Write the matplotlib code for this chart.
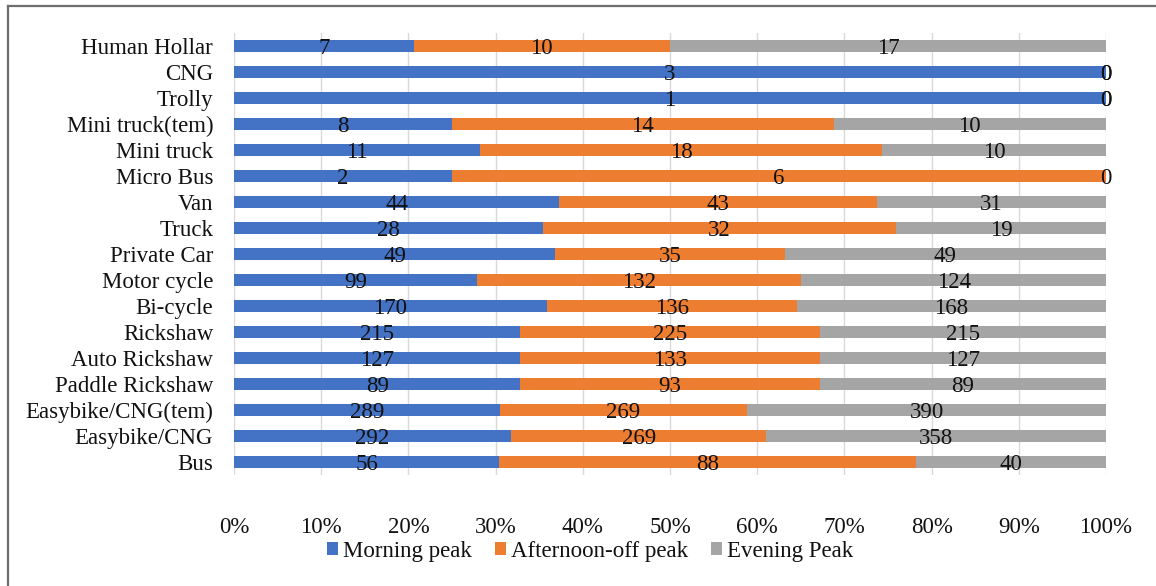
import matplotlib.pyplot as plt
from matplotlib.lines import Line2D
from matplotlib.patches import Patch
import numpy as np

categories = ["Bus", "Easybike/CNG", "Easybike/CNG(tem)", "Paddle Rickshaw",
              "Auto Rickshaw", "Rickshaw", "Bi-cycle", "Motor cycle",
              "Private Car", "Truck", "Van", "Micro Bus", "Mini truck",
              "Mini truck(tem)", "Trolly", "CNG", "Human Hollar"]
morning = [56, 292, 289, 89, 127, 215, 170, 99, 49, 28, 44, 2, 11, 8, 1, 3, 7]
afternoon = [88, 269, 269, 93, 133, 225, 136, 132, 35, 32, 43, 6, 18, 14, 0, 0, 10]
evening = [40, 358, 390, 89, 127, 215, 168, 124, 49, 19, 31, 0, 10, 10, 0, 0, 17]
series_names = ["Morning peak", "Afternoon-off peak", "Evening Peak"]
colors = ["#4472C4", "#ED7D31", "#A5A5A5"]
xticks = np.arange(0, 1.01, 0.1)
xtick_labels = [f"{int(round(t * 100))}%" for t in xticks]

plt.rcParams["font.family"] = ["Liberation Serif", "DejaVu Serif"]
text_color = "#111111"

fig = plt.figure(figsize=(11.56, 5.86), dpi=100)
ax = fig.add_axes([234 / 1156, 1 - 475 / 586, (1106 - 234) / 1156, (475 - 33) / 586])

data = np.array([morning, afternoon, evening], dtype=float)
totals = data.sum(axis=0)
shares = data / totals
y = np.arange(len(categories))

left = np.zeros(len(categories))
for i in range(3):
    ax.barh(y, shares[i], left=left, height=0.43, color=colors[i], zorder=2)
    for j in range(len(categories)):
        ax.text(left[j] + shares[i][j] / 2, y[j], f"{int(data[i][j])}",
                ha="center", va="center_baseline", fontsize=16.5, color=text_color, zorder=3)
    left = left + shares[i]

ax.set_xlim(0, 1)
ax.set_ylim(-0.5, len(categories) - 0.5)
ax.set_yticks(y)
ax.set_yticklabels(categories, fontsize=16.5, color=text_color)
ax.set_xticks(xticks)
ax.set_xticklabels(xtick_labels, fontsize=16.5, color=text_color)
ax.tick_params(axis="both", length=0)
ax.tick_params(axis="x", pad=30)
ax.tick_params(axis="y", pad=15)
ax.grid(axis="x", color="#D9D9D9", linewidth=1, zorder=0)
for s in ax.spines.values():
    s.set_visible(False)

handles = [Patch(facecolor=c, edgecolor="none") for c in colors]
fig.legend(handles, series_names, loc="center", bbox_to_anchor=(590 / 1156, 1 - 551 / 586),
           ncol=3, frameon=False, fontsize=16.5, handlelength=0.5, handleheight=0.5,
           handletextpad=0.2, columnspacing=1.0, labelcolor=text_color)

# outer frame of the chart area
fig.add_artist(Line2D([8 / 1156, 8 / 1156], [0, 1 - 6 / 586], transform=fig.transFigure,
                      color="#6e6e6e", linewidth=1.6))
fig.add_artist(Line2D([8 / 1156, 1], [1 - 6 / 586, 1 - 6 / 586], transform=fig.transFigure,
                      color="#6e6e6e", linewidth=1.6))

fig.savefig("out.png", dpi=100)
